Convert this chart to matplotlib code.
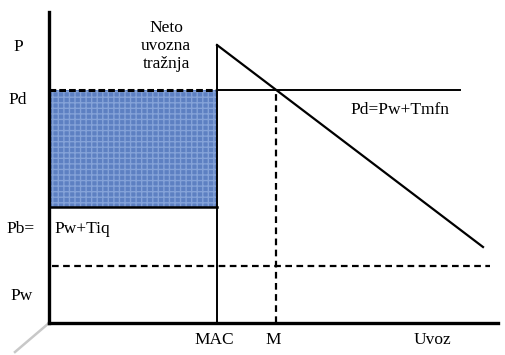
import matplotlib.pyplot as plt
import matplotlib.patches as mpatches

plt.rcParams['font.family'] = ['Liberation Serif', 'DejaVu Serif']

# values (origin = where the axes meet)
pd_price = 233    # Pd = Pw + Tmfn
pb_price = 116    # Pb = Pw + Tiq
pw_price = 57     # Pw
mac = 168         # MAC quota
m_qty = 227       # M
demand_x = [168, 434]
demand_y = [278, 76]
axis_top = 311
axis_right = 449
pd_line_end = 411
pw_line_end = 441

fig = plt.figure(figsize=(5.06, 3.55), dpi=100)
ax = fig.add_axes([0, 0, 1, 1])
ax.set_xlim(-49, 457)
ax.set_ylim(-32, 323)
ax.axis('off')

# shaded rent rectangle
ax.add_patch(mpatches.Rectangle((0, pb_price), mac, pd_price - pb_price,
                                facecolor='#5d80c2', edgecolor='none', zorder=1))
ax.add_patch(mpatches.Rectangle((0, pb_price), mac, pd_price - pb_price,
                                facecolor='none', edgecolor='#84a2d8', hatch='+++',
                                linewidth=0, zorder=1))
ax.plot([0, mac], [pd_price, pd_price], color='black', lw=2.2, ls=(0, (2.2, 1)), zorder=3)
ax.plot([0, mac], [pb_price, pb_price], color='black', lw=1.8, zorder=3)

# axes
ax.plot([0, 0], [0, axis_top], color='black', lw=2.4, zorder=4)
ax.plot([0, axis_right], [0, 0], color='black', lw=2.4, zorder=4)
ax.plot([0, -34], [0, -29], color='#c8c8c8', lw=1.8, zorder=2)

# MAC vertical and demand
ax.plot([mac, mac], [0, demand_y[0]], color='black', lw=1.4, zorder=3)
ax.plot(demand_x, demand_y, color='black', lw=1.6, zorder=3)
ax.plot([mac, pd_line_end], [pd_price, pd_price], color='black', lw=1.4, zorder=3)

# dashed guides
ax.plot([m_qty, m_qty], [0, pd_price], color='black', lw=1.6, ls=(0, (3, 2)), zorder=3)
ax.plot([3, pw_line_end], [pw_price, pw_price], color='black', lw=1.6, ls=(0, (3, 2)), zorder=3)

fs = 12.5
ax.text(-31, 276, 'P', fontsize=fs, ha='center', va='center')
ax.text(-31, 223, 'Pd', fontsize=fs, ha='center', va='center')
ax.text(-28, 94, 'Pb=', fontsize=fs, ha='center', va='center')
ax.text(5, 94, 'Pw+Tiq', fontsize=fs, ha='left', va='center')
ax.text(-27, 27, 'Pw', fontsize=fs, ha='center', va='center')
ax.text(117, 277, 'Neto\nuvozna\ntražnja', fontsize=fs, ha='center', va='center',
        linespacing=1.2)
ax.text(351, 213, 'Pd=Pw+Tmfn', fontsize=fs, ha='center', va='center')
ax.text(165, -17, 'MAC', fontsize=fs, ha='center', va='center')
ax.text(224, -17, 'M', fontsize=fs, ha='center', va='center')
ax.text(383, -17, 'Uvoz', fontsize=fs, ha='center', va='center')

fig.savefig('out.png', dpi=100)
